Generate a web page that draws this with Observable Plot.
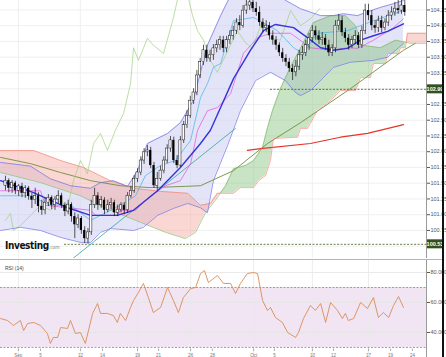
<!DOCTYPE html>
<html><head><meta charset="utf-8">
<script src="https://cdn.jsdelivr.net/npm/d3@7"></script>
<script src="https://cdn.jsdelivr.net/npm/@observablehq/plot@0.6"></script>
<style>
html,body{margin:0;padding:0;background:#fff;}
body{width:446px;height:357px;overflow:hidden;position:relative;font-family:"Liberation Sans",Arial,sans-serif;}
#main{position:absolute;left:0;top:0;}
#rsi{position:absolute;left:0;top:260px;}
#sep{position:absolute;left:0;top:259px;width:444px;height:0;border-top:1px solid #b5b5b5;}
#edge{position:absolute;left:442px;top:0;width:2px;height:357px;background:#111;}
#logo{position:absolute;left:5px;top:240px;font-family:"Liberation Sans Narrow","DejaVu Sans Condensed",Arial,sans-serif;font-weight:bold;font-size:10px;letter-spacing:-0.4px;color:#111;}
#logo span{font-weight:normal;font-size:5px;color:#777;letter-spacing:0;}
#rsilab{position:absolute;left:5px;top:265px;font-size:5px;color:#444;}
svg{overflow:visible;}
</style></head><body>
<div id="main"></div><div id="rsi"></div><div id="sep"></div><div id="edge"></div>
<div id="logo">Investing<span>.com</span></div>
<div id="rsilab">RSI (14)</div>
<script>
// ---- candles (price) ----
const open=[101.46,101.54,101.42,101.50,101.38,101.45,101.34,101.42,101.29,101.23,
101.30,101.13,101.07,101.19,101.27,101.15,101.24,101.30,101.15,101.05,
101.16,100.97,100.84,100.94,100.75,100.62,100.72,101.15,101.30,101.15,
101.23,101.07,101.15,101.19,101.03,101.08,101.15,101.07,101.30,101.38,
101.57,101.67,101.86,101.99,102.02,101.78,101.46,101.57,101.70,101.86,
102.05,102.18,101.86,101.78,102.18,102.42,102.57,102.81,102.94,103.21,
103.42,103.61,103.48,103.53,103.64,103.69,103.77,103.64,103.77,103.84,
103.92,104.05,104.00,104.24,104.32,104.37,104.27,104.21,104.05,103.96,
104.00,103.84,103.77,103.69,103.57,103.48,103.42,103.32,103.26,103.35,
103.53,103.57,103.69,103.80,103.92,103.84,103.77,103.80,103.69,103.57,
103.64,104.00,104.08,103.89,103.80,103.69,103.77,103.84,103.69,103.92,
104.24,104.16,104.00,103.96,104.08,103.96,104.05,104.16,104.21,104.27,
104.24,104.32];
const high=[101.61,101.57,101.54,101.53,101.48,101.50,101.46,101.45,101.34,101.42,
101.35,101.23,101.26,101.32,101.30,101.29,101.38,101.34,101.19,101.23,
101.19,101.03,101.00,100.97,100.81,100.78,101.23,101.42,101.35,101.29,
101.27,101.23,101.26,101.23,101.15,101.19,101.19,101.35,101.45,101.62,
101.73,101.92,102.05,102.10,102.07,101.83,101.67,101.77,101.92,102.11,
102.24,102.23,101.94,102.24,102.48,102.65,102.88,103.00,103.29,103.48,
103.69,103.69,103.61,103.70,103.77,103.83,103.83,103.83,103.92,103.99,
104.11,104.16,104.32,104.43,104.48,104.46,104.37,104.30,104.11,104.08,
104.05,103.92,103.83,103.73,103.64,103.54,103.48,103.38,103.45,103.61,
103.67,103.77,103.88,104.00,103.99,103.92,103.89,103.86,103.77,103.70,
104.08,104.18,104.15,103.96,103.86,103.83,103.92,103.89,103.99,104.34,
104.34,104.24,104.08,104.15,104.15,104.11,104.24,104.30,104.37,104.40,
104.43,104.40];
const low=[101.38,101.35,101.34,101.32,101.29,101.27,101.26,101.23,101.10,101.16,
101.03,100.99,101.00,101.13,101.08,101.07,101.18,101.10,100.97,101.00,
100.88,100.62,100.78,100.69,100.54,100.53,100.67,101.10,101.07,101.10,
101.00,101.03,101.08,100.97,100.97,101.03,101.00,101.02,101.26,101.34,
101.51,101.62,101.80,101.92,101.73,101.42,101.38,101.53,101.65,101.81,
101.99,101.81,101.73,101.75,102.13,102.37,102.53,102.75,102.89,103.16,
103.37,103.42,103.42,103.45,103.57,103.61,103.57,103.57,103.70,103.77,
103.86,103.92,103.96,104.18,104.24,104.21,104.15,103.99,103.89,103.89,
103.77,103.69,103.61,103.51,103.42,103.35,103.26,103.13,103.19,103.29,
103.45,103.51,103.61,103.73,103.77,103.70,103.69,103.61,103.51,103.51,
103.57,103.92,103.83,103.73,103.61,103.64,103.70,103.64,103.64,103.86,
104.08,103.92,103.88,103.89,103.89,103.92,103.99,104.08,104.15,104.18,
104.18,104.15];
const close=[101.54,101.42,101.50,101.38,101.45,101.34,101.42,101.29,101.23,101.30,
101.13,101.07,101.19,101.27,101.15,101.24,101.30,101.15,101.05,101.16,
100.97,100.84,100.94,100.75,100.62,100.72,101.15,101.30,101.15,101.23,
101.07,101.15,101.19,101.03,101.08,101.15,101.07,101.30,101.38,101.57,
101.67,101.86,101.99,102.02,101.78,101.46,101.57,101.70,101.86,102.05,
102.18,101.86,101.78,102.18,102.42,102.57,102.81,102.94,103.21,103.42,
103.61,103.48,103.53,103.64,103.69,103.77,103.64,103.77,103.84,103.92,
104.05,104.00,104.24,104.32,104.37,104.27,104.21,104.05,103.96,104.00,
103.84,103.77,103.69,103.57,103.48,103.42,103.32,103.26,103.35,103.53,
103.57,103.69,103.80,103.92,103.84,103.77,103.80,103.69,103.57,103.64,
104.00,104.08,103.89,103.80,103.69,103.77,103.84,103.69,103.92,104.24,
104.16,104.00,103.96,104.08,103.96,104.05,104.16,104.21,104.27,104.24,
104.32,104.21];

// ---- indicators: [bar index, price] ----
const bbMid=[[-1.5,101.54],[8.5,101.35],[13.6,101.23],[18.8,101.11],[25.8,100.99],[33.9,100.99],[38.8,101.07],[46.1,101.38],[53,101.75],[59.1,102.13],[62.1,102.34],[69.1,103.16],[74.2,103.61],[78.2,103.92],[81.8,104.02],[87.3,103.97],[91.5,103.81],[95.5,103.65],[99.4,103.61],[103.6,103.64],[107.6,103.77],[111.5,103.84],[115.8,103.91],[120.6,104.03]];
const bbUpper=[[-1.5,101.83],[7.6,101.77],[13.6,101.57],[19.7,101.46],[25.8,101.42],[28.8,101.51],[32.7,101.54],[37,101.45],[40,101.70],[43,102.13],[49.1,102.29],[53,102.46],[56.9,102.81],[61.2,103.69],[65.2,104.16],[68.2,104.48],[72.7,104.64],[77.3,104.53],[83.3,104.45],[89.4,104.27],[95.5,104.16],[99.4,104.16],[102.4,104.19],[106.7,104.16],[109.1,104.21],[113.6,104.29],[117.6,104.35],[120.6,104.40]];
const bbLower=[[-1.5,100.75],[4.5,100.80],[10.6,100.75],[16.7,100.64],[22.7,100.56],[25.8,100.56],[28.8,100.72],[31.8,100.78],[38.8,100.75],[41.8,100.80],[46.1,100.99],[50.9,101.10],[55.2,101.18],[59.1,101.11],[61.2,101.03],[63,101.54],[67.3,102.10],[71.2,102.65],[75.8,103.13],[80.3,103.26],[84.8,103.13],[87.9,102.94],[89.4,102.89],[92.4,102.97],[99.4,103.34],[104.5,103.42],[111.5,103.45],[115.8,103.50],[120.6,103.72]];
const tenkan=[[-1.5,101.30],[7.6,101.30],[13.6,101.15],[19.7,101.15],[25.8,100.91],[28.8,100.99],[34.8,101.15],[39.4,101.30],[42.4,101.62],[46.9,101.78],[51.5,101.86],[56.1,102.18],[59.1,102.86],[61.2,103.08],[63,103.34],[65.2,103.40],[69.1,104.08],[75.2,104.13],[82.4,103.92],[87.3,103.65],[90.3,103.56],[94.5,103.88],[103.6,103.92],[111.5,104.08],[120.6,104.24]];
const kijun=[[-1.5,101.38],[10.6,101.38],[12.1,101.15],[25.8,101.07],[27.3,100.99],[33.9,100.99],[34.8,101.07],[39.4,101.07],[40.9,101.15],[43.9,101.30],[48.5,101.46],[53,101.54],[56.1,101.81],[58.2,102.34],[61.2,102.65],[64.2,102.70],[68.2,102.92],[72.1,103.56],[76.4,103.81],[80.3,103.88],[86.4,103.88],[92.4,103.65],[98.5,103.61],[103.6,103.65],[106.7,103.64],[111.5,103.77],[117.6,103.97],[120.6,104.11]];
const chikou=[[0,100.91],[1.5,101.02],[2.4,100.75],[4.5,100.83],[7.6,100.99],[10.6,101.15],[13.6,101.07],[16.7,101.23],[18.8,101.11],[20.6,101.54],[22.7,101.86],[24.8,101.65],[26.7,102.13],[28.8,102.29],[30.9,102.02],[33.3,102.34],[35.8,102.61],[37.9,103.08],[38.8,103.65],[40.3,103.45],[43,103.80],[44.8,103.69],[47.9,103.56],[50.9,104.13],[52.4,104.48],[55.2,104.48],[56.7,104.16],[58.2,103.92],[60,103.77],[62.1,103.45],[64.2,103.26],[66.7,103.53],[70.3,103.92],[72.7,103.73],[74.8,103.64],[77.9,104.08],[80.3,103.80],[83.3,103.77],[86.4,104.24],[89.4,104.00],[92.4,104.11],[95.2,104.27]];
const spanA=[[-1.5,101.67],[10.6,101.51],[22.7,101.30],[31.8,101.07],[40.9,100.88],[48.5,100.72],[54.5,100.62],[57.6,100.72],[60.6,101.03],[63.6,101.23],[66.7,101.46],[69.1,101.73],[72.7,101.78],[75.2,101.86],[77.9,102.07],[79.4,102.38],[80.9,102.65],[83.3,103.00],[86.4,103.35],[89.4,103.64],[93.3,104.05],[98.5,104.16],[103,104.16],[106.1,104.00],[108.2,103.69],[113.6,103.65],[118.2,103.77],[122.7,103.72],[127.6,103.72]];
const spanB=[[-1.5,102.02],[8.5,102.02],[16.7,101.86],[23.6,101.75],[31.8,101.54],[38.8,101.42],[47,101.37],[55.2,101.34],[59.1,101.15],[62.1,101.18],[64.2,101.34],[69.1,101.34],[71.2,101.43],[75.2,101.43],[76.7,101.54],[78.8,101.62],[80.3,101.86],[81.2,102.21],[88.5,102.23],[89.4,102.37],[91.5,102.37],[92.4,102.45],[94.5,102.65],[98.5,102.81],[101.5,102.97],[106.1,102.97],[107.6,103.18],[110.6,103.18],[111.5,103.40],[115.2,103.40],[115.8,103.56],[119.1,103.56],[119.7,103.65],[121.2,103.65],[121.8,103.88],[127.6,103.88]];
const longMA=[[-1.5,101.91],[7.6,101.81],[16.7,101.67],[25.8,101.54],[34.8,101.46],[43.9,101.43],[54.5,101.45],[59.1,101.46],[69.1,101.70],[79.4,102.13],[89.4,102.46],[104.5,103.00],[120.6,103.61],[124.2,103.72]];
const ma200=[[73.3,102.02],[77.3,102.05],[92.4,102.13],[101.5,102.23],[109.7,102.29],[120.6,102.43]];
const trendLine=[[20.3,100.30],[69.7,102.37]];
const supportLevels=[{v:100.53,from:17.9},{v:102.99,from:80.3}];
const yTicks=[100.50,100.75,101.00,101.25,101.50,101.75,102.00,102.25,102.50,102.75,103.00,103.25,103.50,103.75,104.00,104.25];

// ---- RSI ----
const rsiIdx=[-1.5,0.6,2.4,4.5,5.5,6.7,8.5,10.6,12.7,13.6,14.5,15.8,16.7,18.8,19.7,21.2,22.7,24.2,26.4,27.9,28.8,30.9,32.7,33.9,34.8,36.4,37.9,38.8,40.3,41.8,43.3,44.8,47,49.1,50.9,52.4,53.9,56.1,57.6,59.1,60.3,61.5,64.2,66.1,68.2,69.7,71.2,73.3,75.2,76.4,77.9,79.4,80.3,81.8,83.9,85.5,87.9,88.8,90.3,92.4,93.9,95.5,97,98.5,100.6,102.1,103,103.9,105.5,107.6,109.7,111.5,113,114.5,116.1,117.6,119.1,120.6];
const rsiVal=[49.3,48,44.7,48,41.3,46,46.7,44.7,39.3,32.7,36.7,36.7,43.3,42.7,48,39.3,40,32.7,52.7,59.3,52.7,52.7,51.3,46.7,52.7,48,56.7,61.3,66.7,72.7,63.3,53.3,56.7,70,61.3,53.3,63.3,69.3,70,79.3,81.3,73.3,78,72.7,72.7,66,72.7,79.3,80,79.3,61.3,54.7,56.7,50,46.7,40,36.7,40,49.3,58,54.7,59.3,46.7,60,54.7,49.3,52.7,48,49.3,60,56,63.3,50,53.3,50,58,64,56.7];
const rsiTicks=[40,60,80];
const rsiLevels=[30,70];

// ---- x (date) ticks ----
const gridIdx=[3.9,22.7,40,56.1,75.2,93,110];
const xTickIdx=[3.9,10.6,22.7,29.4,40,46.4,56.1,62.7,75.2,81.5,93,99.4,110,116.7,123.3];
const xTickLabels=["Sep","5","12","14","19","21","26","28","Oct","5","10","12","17","19","24"];

// ---- helpers for fills ----
const xDomain=[-1.515,127.58];
function interp(pts,x){
  if(x<=pts[0][0])return pts[0][1];
  for(let k=1;k<pts.length;k++){
    if(x<=pts[k][0]){const[x0,y0]=pts[k-1],[x1,y1]=pts[k];return x1===x0?y1:y0+(y1-y0)*(x-x0)/(x1-x0);}
  }
  return pts[pts.length-1][1];
}
function grid(a,b,s){const g=[];for(let x=a;x<=b+1e-9;x+=s)g.push(+x.toFixed(3));return g;}
const bbGrid=grid(-1.5,120.6,0.1).map(x=>({x,u:interp(bbUpper,x),l:interp(bbLower,x)}));
const cloudGrid=grid(-1.5,127.6,0.1).map(x=>({x,a:interp(spanA,x),b:interp(spanB,x)}));
const candles=close.map((c,i)=>({i,o:open[i],h:high[i],l:low[i],c}));
const ups=candles.filter(d=>d.c>=d.o), downs=candles.filter(d=>d.c<d.o);
const P=d=>d[0], V=d=>d[1];
const ln=(data,stroke,w)=>Plot.line(data,{x:P,y:V,stroke,strokeWidth:w,clip:true});
const pxPerUnit=258/(104.40-100.305), xPer=426/(xDomain[1]-xDomain[0]);
// axis labels hidden under the highlighted level boxes
const axisTicks=yTicks.filter(t=>supportLevels.every(s=>Math.abs(s.v-t)*pxPerUnit>7));

const style={fontSize:"5.5px",fontFamily:"Liberation Sans, Arial, sans-serif",color:"#555",background:"transparent",overflow:"visible"};

const main=Plot.plot({
  width:446,height:260,marginLeft:0,marginRight:20,marginTop:0,marginBottom:2,
  x:{domain:xDomain,axis:null},
  y:{domain:[100.305,104.40],axis:"right",ticks:axisTicks,tickFormat:d=>d.toFixed(2),tickSize:3,tickPadding:1,label:null},
  style,
  marks:[
    Plot.ruleY(yTicks,{stroke:"#ececec",strokeWidth:0.8}),
    Plot.ruleX(gridIdx,{stroke:"#ececec",strokeWidth:0.8}),
    Plot.areaY(bbGrid,{x:"x",y1:"l",y2:"u",fill:"#c9c9f1",fillOpacity:0.5,clip:true}),
    Plot.areaY(cloudGrid,{x:"x",y1:"a",y2:d=>Math.max(d.a,d.b),fill:"#f4a79c",fillOpacity:0.45,clip:true}),
    Plot.areaY(cloudGrid,{x:"x",y1:"b",y2:d=>Math.max(d.a,d.b),fill:"#86c47f",fillOpacity:0.45,clip:true}),
    Plot.ruleY(supportLevels,{y:"v",x1:"from",x2:()=>xDomain[1],stroke:"#3d5a22",strokeWidth:0.8,strokeDasharray:"2,1.5"}),
    ln(longMA,"#6f8f3c",0.9),
    ln(ma200,"#e8322b",1.2),
    ln(trendLine,"#2fa79a",0.8),
    ln(spanA,"#79b45e",0.6),
    ln(spanB,"#f0786a",0.6),
    ln(chikou,"#9fd07c",0.7),
    ln(kijun,"#e24fdc",0.7),
    ln(tenkan,"#42b1ea",0.7),
    ln(bbUpper,"#6f6fe6",0.7),
    ln(bbLower,"#6f6fe6",0.7),
    ln(bbMid,"#3535d8",1.4),
    Plot.ruleX(candles,{x:"i",y1:"l",y2:"h",stroke:"#111",strokeWidth:0.7,clip:true}),
    Plot.rect(ups,{x1:d=>d.i-0.33,x2:d=>d.i+0.33,y1:"o",y2:"c",fill:"#fff",stroke:"#111",strokeWidth:0.5,clip:true}),
    Plot.rect(downs,{x1:d=>d.i-0.33,x2:d=>d.i+0.33,y1:"o",y2:"c",fill:"#000",clip:true}),
    Plot.ruleX([xDomain[1]],{stroke:"#9a9a9a",strokeWidth:1}),
    Plot.rect(supportLevels,{x1:()=>xDomain[1]+1/xPer,x2:()=>xDomain[1]+16/xPer,y1:d=>d.v-4.5/pxPerUnit,y2:d=>d.v+4.5/pxPerUnit,fill:"#2f5220"}),
    Plot.text(supportLevels,{x:()=>xDomain[1]+8.5/xPer,y:"v",text:d=>d.v.toFixed(2),fill:"#fff",fontSize:5.5,fontWeight:"bold"})
  ]
});
document.getElementById("main").appendChild(main);

const rsiPts=rsiIdx.map((x,k)=>[x,rsiVal[k]]);
const rsi=Plot.plot({
  width:446,height:97,marginLeft:0,marginRight:20,marginTop:0,marginBottom:0,
  x:{domain:xDomain,axis:null},
  y:{domain:[23.33,88],axis:"right",ticks:rsiTicks,tickFormat:d=>d.toFixed(3),tickSize:3,tickPadding:1,label:null},
  style,
  marks:[
    Plot.rect([0],{x1:xDomain[0],x2:xDomain[1],y1:rsiLevels[0],y2:rsiLevels[1],fill:"#f1e5f3"}),
    Plot.ruleY(rsiTicks,{stroke:"#e4e4e4",strokeWidth:0.8}),
    Plot.ruleX(gridIdx,{stroke:"#e8e8e8",strokeWidth:0.8}),
    Plot.ruleY(rsiLevels,{stroke:"#8a8a8a",strokeWidth:0.8,strokeDasharray:"2,1.5"}),
    Plot.line(rsiPts,{x:P,y:V,stroke:"#d98b55",strokeWidth:0.9}),
    Plot.ruleX([xDomain[1]],{stroke:"#9a9a9a",strokeWidth:1}),
    Plot.ruleX(xTickIdx,{y1:29,y2:27.3,stroke:"#999",strokeWidth:0.8}),
    Plot.text(xTickIdx,{x:d=>d,y:23.33,text:(d,k)=>xTickLabels[k],lineAnchor:"bottom",dy:-0.5,fontSize:4.5,fill:"#777"})
  ]
});
document.getElementById("rsi").appendChild(rsi);
</script>
</body></html>
